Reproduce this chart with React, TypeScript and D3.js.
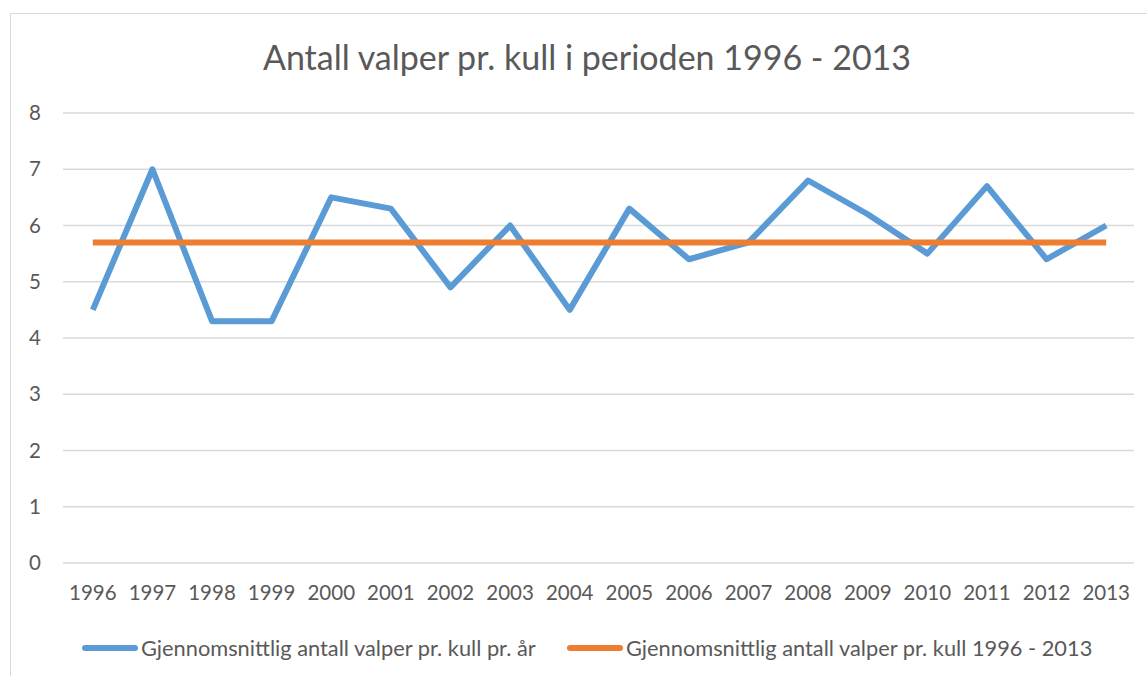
import React from "react";
import * as d3 from "d3";

const years = ["1996", "1997", "1998", "1999", "2000", "2001", "2002", "2003", "2004",
  "2005", "2006", "2007", "2008", "2009", "2010", "2011", "2012", "2013"];
const perYear = [4.5, 7.0, 4.3, 4.3, 6.5, 6.3, 4.9, 6.0, 4.5, 6.3, 5.4, 5.7, 6.8, 6.2, 5.5, 6.7, 5.4, 6.0];
const average = [5.7, 5.7, 5.7, 5.7, 5.7, 5.7, 5.7, 5.7, 5.7, 5.7, 5.7, 5.7, 5.7, 5.7, 5.7, 5.7, 5.7, 5.7];
const yTicks = [0, 1, 2, 3, 4, 5, 6, 7, 8];
const seriesNames = [
  "Gjennomsnittlig antall valper pr. kull pr. år",
  "Gjennomsnittlig antall valper pr. kull 1996 - 2013",
];

const W = 1147;
const H = 676;
const font = "Lato, 'Open Sans', sans-serif";
const textColor = "#595959";
const blue = "#5B9BD5";
const orange = "#ED7D31";

export default function App() {
  const x = d3.scaleBand().domain(years).range([63, 1136]).padding(0);
  const y = d3.scaleLinear().domain([0, 8]).range([563, 113]);
  const cx = (d: string) => (x(d) ?? 0) + x.bandwidth() / 2;

  const line = d3
    .line<number>()
    .x((_, i) => cx(years[i]))
    .y((d) => y(d));

  return (
    <div style={{ position: "absolute", left: 0, top: 0 }}>
      <svg width={W} height={H} style={{ display: "block", background: "#fff" }}>
        <rect x={10.5} y={13.5} width={1160} height={700} fill="#fff" stroke="#D9D9D9" strokeWidth={1} />

        <text x={587} y={70} textAnchor="middle" fontFamily={font} fontSize={34} fill={textColor}>
          Antall valper pr. kull i perioden 1996 - 2013
        </text>

        {yTicks.map((t) => (
          <g key={t}>
            <line x1={63} x2={1134} y1={y(t)} y2={y(t)} stroke="#D9D9D9" strokeWidth={1.3} />
            <text x={41} y={y(t)} dy="0.35em" textAnchor="end" fontFamily={font} fontSize={20.5} fill={textColor}>
              {t}
            </text>
          </g>
        ))}

        {years.map((yr) => (
          <text key={yr} x={cx(yr)} y={600} textAnchor="middle" fontFamily={font} fontSize={20.5} fill={textColor}>
            {yr}
          </text>
        ))}

        <path d={line(perYear) ?? ""} fill="none" stroke={blue} strokeWidth={6} strokeLinejoin="round" />
        <path d={line(average) ?? ""} fill="none" stroke={orange} strokeWidth={6} />

        <g>
          <line x1={85} x2={135} y1={648} y2={648} stroke={blue} strokeWidth={6} strokeLinecap="round" />
          <text x={141} y={648} dy="0.35em" fontFamily={font} fontSize={21.8} fill={textColor}>
            {seriesNames[0]}
          </text>
          <line x1={570} x2={620} y1={648} y2={648} stroke={orange} strokeWidth={6} strokeLinecap="round" />
          <text x={626} y={648} dy="0.35em" fontFamily={font} fontSize={21.8} fill={textColor}>
            {seriesNames[1]}
          </text>
        </g>
      </svg>
    </div>
  );
}
